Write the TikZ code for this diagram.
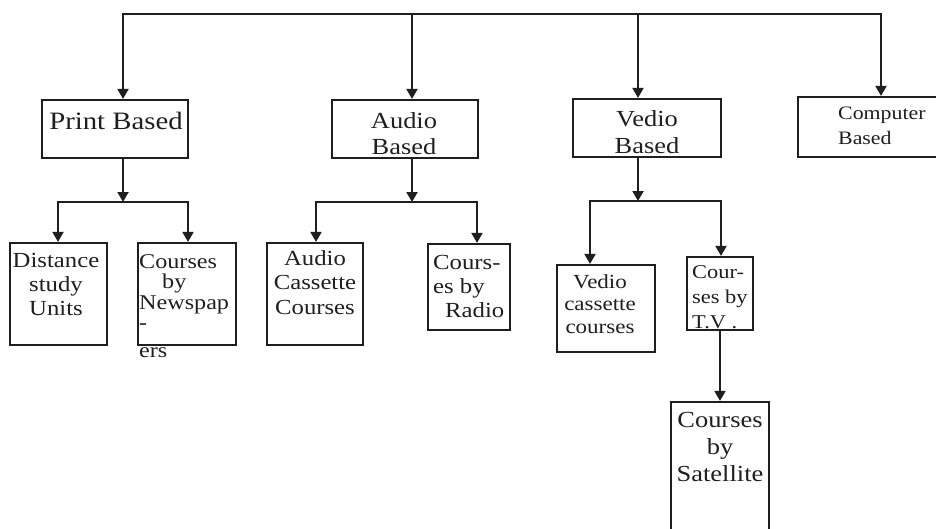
\documentclass[tikz,border=0pt]{standalone}
\usepackage{fontspec}
\setmainfont{Liberation Serif}[FakeStretch=1.15]
\usetikzlibrary{arrows.meta}
\begin{document}
\begin{tikzpicture}[x=1pt,y=-1pt,
  boxwh/.style 2 args={draw=black!88, line width=2.2pt, inner sep=0pt, minimum width=#1pt, minimum height=#2pt},
  conn/.style={draw=black!88, line width=2pt, line cap=rect},
  arr/.style={conn, -{Triangle[length=10pt,width=11pt]}},
  txt/.style={inner sep=0pt, anchor=north, text=black!88},
  txtl/.style={inner sep=0pt, anchor=north west, align=left, text=black!88}]
\useasboundingbox (0,0) rectangle (936,528);
\fill[white] (0,0) rectangle (936,528);
\clip (0,0) rectangle (936,528);

% boxes
\node[boxwh={146}{58}] (pb) at (115,129) {};
\node[boxwh={146}{58}] (ab) at (405,129) {};
\node[boxwh={148}{58}] (vb) at (647,128) {};
\node[boxwh={147}{60}] (cb) at (871.5,127) {};
\node[boxwh={97}{102}] (ds) at (58.5,294) {};
\node[boxwh={98}{102}] (cn) at (187,294) {};
\node[boxwh={96}{102}] (ac) at (315,294) {};
\node[boxwh={82}{86}] (cr) at (469,287) {};
\node[boxwh={98}{87}] (vc) at (606,308.5) {};
\node[boxwh={66}{73}] (ct) at (720,293.5) {};
\node[boxwh={98}{138}] (cs) at (720,471) {};

% texts
\node[txt, font=\fontsize{25}{28}\selectfont] (pbt) at (116,112) {Print Based};
\node[txt, align=center, font=\fontsize{23}{26}\selectfont] (abt) at (404,112) {Audio\\Based};
\node[txt, align=center, font=\fontsize{23}{27}\selectfont] (vbt) at (647,110) {Vedio\\Based};
\node[txtl, font=\fontsize{19}{25}\selectfont] (cbt) at (838,107) {Computer\\Based};
\node[txt, align=center, font=\fontsize{21.5}{24}\selectfont] (dst) at (56,253) {Distance\\study\\Units};
\node[txtl, font=\fontsize{21}{20.5}\selectfont] (cnt) at (139,254) {Courses\\\hspace*{23pt}by\\Newspap\\-\\[7pt]ers};
\node[txt, align=center, font=\fontsize{21.5}{24.5}\selectfont] (act) at (315,250) {Audio\\Cassette\\Courses};
\node[txtl, font=\fontsize{21.5}{24}\selectfont] (crt) at (433,255) {Cours-\\es by\\\hspace*{12pt}Radio};
\node[txt, align=center, font=\fontsize{20}{22.5}\selectfont] (vct) at (600,274) {Vedio\\cassette\\courses};
\node[txtl, font=\fontsize{19.5}{25}\selectfont] (ctt) at (692,265) {Cour-\\ses by\\T.V .};
\node[txt, align=center, font=\fontsize{23}{27}\selectfont] (cst) at (720,412) {Courses\\by\\Satellite};

% top level
\coordinate (t1) at (123,14);
\coordinate (t2) at (412,14);
\coordinate (t3) at (638,14);
\coordinate (t4) at (881,14);
\draw[conn] (t1) -- (t4);
\draw[arr] (t1) -- (t1 |- pb.north);
\draw[arr] (t2) -- (t2 |- ab.north);
\draw[arr] (t3) -- (t3 |- vb.north);
\draw[arr] (t4) -- (t4 |- cb.north);

% print branch
\coordinate (jp) at (123,202);
\coordinate (jpl) at (58,202);
\coordinate (jpr) at (188,202);
\draw[arr] (jp |- pb.south) -- (jp);
\draw[conn] (jpl) -- (jpr);
\draw[arr] (jpl) -- (jpl |- ds.north);
\draw[arr] (jpr) -- (jpr |- cn.north);

% audio branch
\coordinate (ja) at (412,202);
\coordinate (jal) at (316,202);
\coordinate (jar) at (477,202);
\draw[arr] (ja |- ab.south) -- (ja);
\draw[conn] (jal) -- (jar);
\draw[arr] (jal) -- (jal |- ac.north);
\draw[arr] (jar) -- (jar |- cr.north);

% video branch
\coordinate (jv) at (638,201);
\coordinate (jvl) at (590,201);
\coordinate (jvr) at (721,201);
\draw[arr] (jv |- vb.south) -- (jv);
\draw[conn] (jvl) -- (jvr);
\draw[arr] (jvl) -- (jvl |- vc.north);
\draw[arr] (jvr) -- (jvr |- ct.north);

% TV to satellite
\draw[arr] (ct.south) -- (cs.north);
\end{tikzpicture}
\end{document}
